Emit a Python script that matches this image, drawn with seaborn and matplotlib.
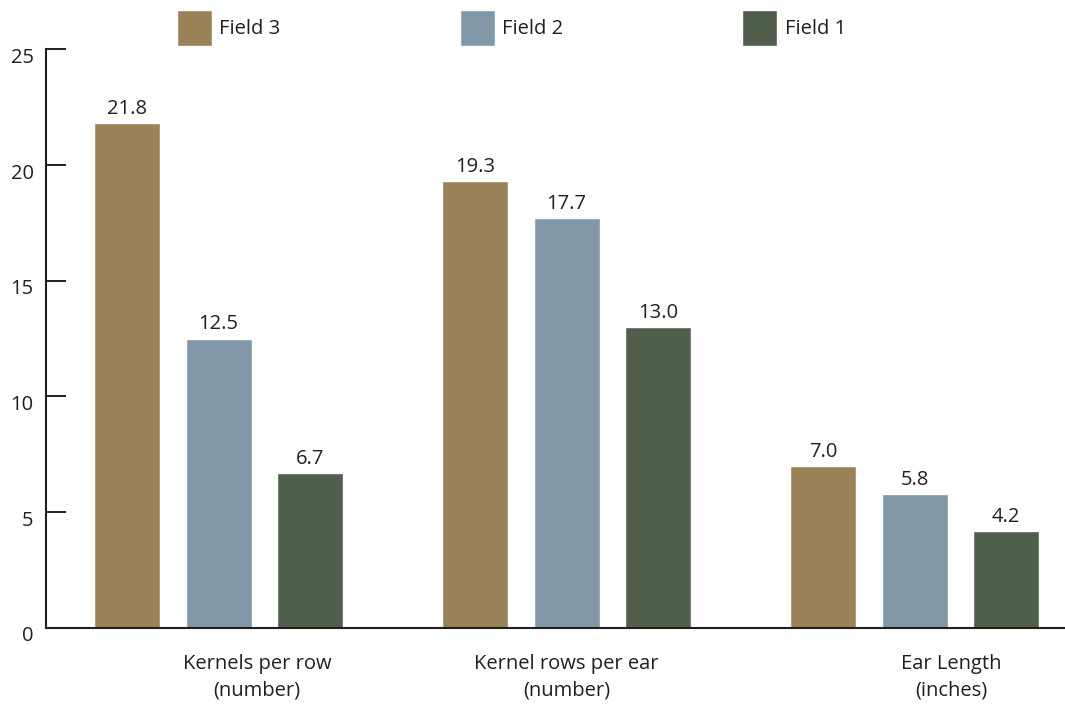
import matplotlib
matplotlib.use("Agg")
import matplotlib.pyplot as plt
import matplotlib.transforms as mtransforms
import seaborn as sns
import pandas as pd

# Corn yield components by field
measures = ["Kernels per row\n(number)", "Kernel rows per ear\n(number)", "Ear Length\n(inches)"]
fields = ["Field 3", "Field 2", "Field 1"]
field3 = [21.8, 19.3, 7.0]
field2 = [12.5, 17.7, 5.8]
field1 = [6.7, 13.0, 4.2]
y_ticks = [0, 5, 10, 15, 20, 25]

colors = {"Field 3": "#9a8359", "Field 2": "#8098a8", "Field 1": "#4f5f4c"}
ink = "#231f20"
fs = 14.5

df = pd.DataFrame({
    "measure": measures * 3,
    "field": ["Field 3"] * 3 + ["Field 2"] * 3 + ["Field 1"] * 3,
    "value": field3 + field2 + field1,
})

sns.set_theme(style="white")
plt.rcParams["font.family"] = ["Open Sans", "DejaVu Sans"]
plt.rcParams["text.color"] = ink

fig = plt.figure(figsize=(10.65, 7.04), dpi=100)
ax = fig.add_axes([0.0432, 0.108, 0.9568, 0.822])

sns.barplot(data=df, x="measure", y="value", hue="field", order=measures,
            hue_order=fields, palette=colors, width=0.79, gap=0.28,
            saturation=1, errorbar=None, ax=ax)

for cont in ax.containers:
    ax.bar_label(cont, fmt="%.1f", padding=3, fontsize=fs, color=ink)

ax.set_ylim(0, 25)
ax.set_xlim(-0.496, 2.432)
ax.set_yticks(y_ticks)
ax.tick_params(axis="y", direction="in", length=14.5, width=1.4, color=ink,
               pad=9, labelsize=fs, labelcolor=ink, left=True)
# y labels sit a little below their tick marks
shift = mtransforms.ScaledTranslation(0, -6 / 100, fig.dpi_scale_trans)
for lbl in ax.get_yticklabels():
    lbl.set_transform(lbl.get_transform() + shift)

# category names sit slightly right of each group for the outer groups
label_pos = [0.11, 1.0, 2.105]
ax.set_xticks(label_pos)
ax.set_xticklabels(measures, fontsize=fs, color=ink, linespacing=1.45)
ax.tick_params(axis="x", length=0, pad=18.5)
ax.set_xlabel("")
ax.set_ylabel("")

for side in ["top", "right"]:
    ax.spines[side].set_visible(False)
for side in ["left", "bottom"]:
    ax.spines[side].set_color(ink)
    ax.spines[side].set_linewidth(1.5)

ax.legend(frameon=False, ncol=3, loc="upper left",
          bbox_to_anchor=(0.166, 0.986), bbox_transform=fig.transFigure,
          borderpad=0, borderaxespad=0, handlelength=1.75, handleheight=2.4,
          handletextpad=0.35, columnspacing=8.9, fontsize=fs)

fig.savefig("out.png", dpi=100, facecolor="white")
